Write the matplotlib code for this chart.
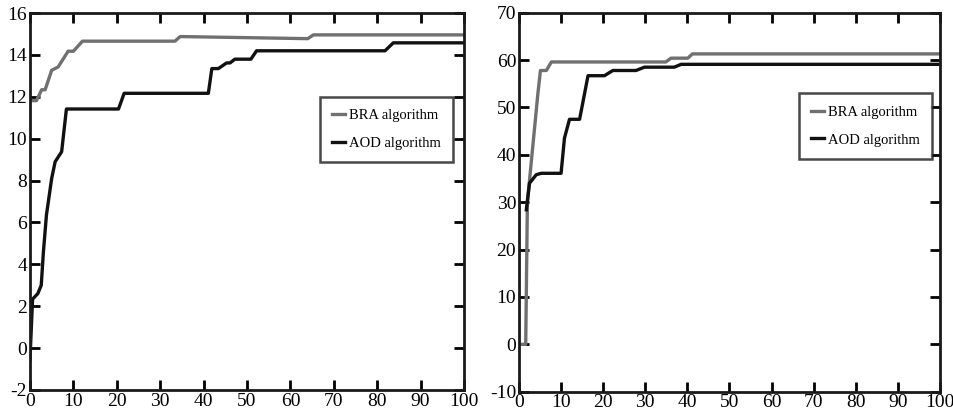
import matplotlib
matplotlib.use("Agg")
import matplotlib.pyplot as plt

plt.rcParams['font.family'] = ['Liberation Serif', 'DejaVu Serif']
plt.rcParams['axes.unicode_minus'] = False

# Left panel
left_bra_x = [0, 1.5, 2.7, 3.5, 5.0, 6.5, 8.8, 10.0, 12.1, 33.4, 34.6, 64.0, 65.3, 100]
left_bra_y = [11.82, 11.82, 12.34, 12.34, 13.27, 13.43, 14.18, 14.18, 14.66, 14.66, 14.88, 14.78, 14.96, 14.96]
left_aod_x = [0, 0.6, 1.8, 2.6, 3.1, 3.8, 5.0, 5.8, 7.3, 8.4, 20.4, 21.7, 41.1, 41.9, 43.4, 45.3,
              46.1, 47.2, 50.9, 52.2, 81.8, 83.7, 100]
left_aod_y = [-0.56, 2.34, 2.6, 3.0, 4.6, 6.36, 8.1, 8.9, 9.38, 11.42, 11.42, 12.17, 12.17, 13.35,
              13.35, 13.62, 13.62, 13.8, 13.8, 14.2, 14.2, 14.58, 14.58]

# Right panel
right_bra_x = [0.6, 1.6, 2.0, 4.5, 5.1, 6.5, 7.7, 34.9, 36.1, 40.1, 41.2, 100]
right_bra_y = [0, 0, 30, 53, 57.8, 57.8, 59.6, 59.6, 60.4, 60.4, 61.3, 61.3]
right_aod_x = [1.75, 2.5, 4.1, 5.3, 10.0, 10.8, 12.0, 14.4, 16.4, 20.3, 22.3, 27.8, 29.8, 36.9,
               38.5, 100]
right_aod_y = [28.4, 34.0, 35.8, 36.1, 36.1, 43.5, 47.5, 47.5, 56.7, 56.7, 57.8, 57.8, 58.5, 58.5,
               59.1, 59.1]

x_ticks = list(range(0, 101, 10))
left_y_ticks = list(range(-2, 17, 2))
right_y_ticks = list(range(-10, 71, 10))

series_labels = ['BRA algorithm', 'AOD algorithm']
gray = '#707070'
black = '#111111'

fig = plt.figure(figsize=(9.54, 4.16), dpi=100)
ax1 = fig.add_axes([0.0314, 0.0625, 0.455, 0.906])
ax2 = fig.add_axes([0.544, 0.0584, 0.4413, 0.9111])

panels = [
    (ax1, left_bra_x, left_bra_y, left_aod_x, left_aod_y, left_y_ticks, (-2, 16), (0.975, 0.691)),
    (ax2, right_bra_x, right_bra_y, right_aod_x, right_aod_y, right_y_ticks, (-10, 70), (0.981, 0.701)),
]

for ax, bx, by, axx, ayy, yt, ylim, lpos in panels:
    ax.plot(bx, by, color=gray, lw=2.4, label=series_labels[0])
    ax.plot(axx, ayy, color=black, lw=2.4, label=series_labels[1])
    ax.set_xlim(0, 100)
    ax.set_ylim(*ylim)
    ax.set_xticks(x_ticks)
    ax.set_yticks(yt)
    ax.tick_params(direction='in', length=7, width=2, top=True, right=True,
                   labelsize=14, pad=2)
    for s in ax.spines.values():
        s.set_linewidth(2)
        s.set_color('#1a1a1a')
    leg = ax.legend(loc='center right', bbox_to_anchor=lpos, fontsize=10.5, frameon=True,
                    fancybox=False, edgecolor='#1a1a1a', handlelength=0.9, handletextpad=0.25,
                    borderpad=0.85, labelspacing=1.0, borderaxespad=0.0)
    leg.get_frame().set_linewidth(1.8)

fig.savefig('out.png', dpi=100)
